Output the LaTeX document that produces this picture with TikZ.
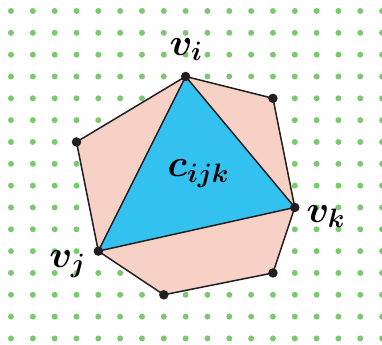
\RequirePackage{fix-cm}
\documentclass[tikz,border=0pt]{standalone}
\usepackage{amsmath,bm}
\definecolor{dotgreen}{RGB}{124,200,112}
\definecolor{salmonfill}{RGB}{247,209,197}
\definecolor{trifill}{RGB}{51,193,240}
\definecolor{edgecol}{RGB}{35,31,32}
\tikzset{
  griddot/.style={fill=dotgreen},
  vtx/.style={circle,fill=edgecol,inner sep=0pt,minimum size=9.5pt},
  edgeline/.style={draw=edgecol,line width=1.5pt,line join=round},
  lbl/.style={inner sep=0pt,anchor=base,font=\fontsize{38}{42}\selectfont}
}
\begin{document}
\begin{tikzpicture}[x=21.83pt,y=-21.83pt]
\useasboundingbox (-0.504,-0.504) rectangle (16.995,15.30);
\foreach \i in {0,...,17}{
  \foreach \j in {0,...,15}{
    \fill[griddot] (\i,\j) circle (3pt);
  }
}
\coordinate (vi) at (8,3);
\coordinate (tr) at (12,4);
\coordinate (vk) at (13,9);
\coordinate (br) at (12,12);
\coordinate (bt) at (7,13);
\coordinate (vj) at (4,11);
\coordinate (lf) at (3,6);
\path[edgeline,fill=salmonfill] (vi)--(tr)--(vk)--(br)--(bt)--(vj)--(lf)--cycle;
\path[edgeline,fill=trifill] (vi)--(vj)--(vk)--cycle;
\foreach \p in {vi,tr,vk,br,bt,vj,lf}{
  \node[vtx] (d\p) at (\p) {};
}
\node[lbl] (lvi) at (8.02,2.02) {$\bm{v_i}$};
\node[lbl] (lvk) at (14.41,9.67) {$\bm{v_k}$};
\node[lbl] (lvj) at (2.59,11.73) {$\bm{v_j}$};
\node[lbl] (lc) at (8.58,7.60) {$\bm{c_{ijk}}$};
\end{tikzpicture}
\end{document}
